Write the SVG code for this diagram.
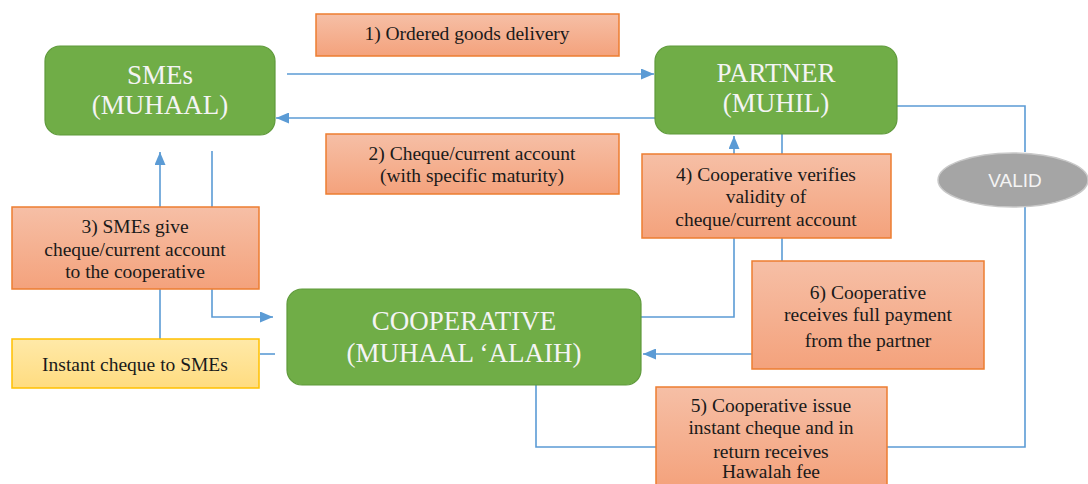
<svg xmlns="http://www.w3.org/2000/svg" width="1088" height="484" viewBox="0 0 1088 484">
<style>
.node{fill:#70ad47;stroke:#5f9a3b;stroke-width:1.2}
.lab{fill:url(#og);stroke:#ed7d31;stroke-width:1.5}
.ylab{fill:url(#yg);stroke:#ffc000;stroke-width:1.5}
.t{font-size:27px;fill:#f4f4f4;text-anchor:middle}
.l{font-size:19.5px;fill:#1a1a1a;text-anchor:middle}
.c{fill:none;stroke:#5b9bd5;stroke-width:1.6}
</style>
<defs>
<linearGradient id="og" x1="0" y1="0" x2="0" y2="1"><stop offset="0" stop-color="#f6bfa6"/><stop offset="1" stop-color="#f4a27c"/></linearGradient>
<linearGradient id="yg" x1="0" y1="0" x2="0" y2="1"><stop offset="0" stop-color="#ffe9a8"/><stop offset="1" stop-color="#ffdc80"/></linearGradient>
<marker id="ah" markerUnits="userSpaceOnUse" markerWidth="13" markerHeight="11" refX="13" refY="5.5" orient="auto"><path d="M0,0 L13,5.5 L0,11 z" fill="#5b9bd5"/></marker>
</defs>
<g id="connectors">
<path class="c" d="M287,74 H654" marker-end="url(#ah)"/>
<path class="c" d="M655,118 H276" marker-end="url(#ah)"/>
<path class="c" d="M160,339 V152" marker-end="url(#ah)"/>
<path class="c" d="M212,151 V317 H273" marker-end="url(#ah)"/>
<path class="c" d="M260,354 H275"/>
<path class="c" d="M641,317 H734 V136" marker-end="url(#ah)"/>
<path class="c" d="M782,134 V261"/>
<path class="c" d="M752,354 H643" marker-end="url(#ah)"/>
<path class="c" d="M897,106 H1025 V152"/>
<path class="c" d="M1025,207 V447 H887"/>
<path class="c" d="M536,385 V447 H656"/>
</g>
<g font-family="Liberation Serif, Times New Roman, Times, serif">
<g id="smes"><rect class="node" x="45" y="46" width="230" height="89" rx="15"/><text class="t" x="160" y="84">SMEs</text><text class="t" x="160" y="114">(MUHAAL)</text></g>
<g id="partner"><rect class="node" x="655" y="46" width="242" height="88" rx="15"/><text class="t" x="776" y="82">PARTNER</text><text class="t" x="776" y="112">(MUHIL)</text></g>
<g id="cooperative"><rect class="node" x="287" y="289" width="354" height="96" rx="15"/><text class="t" x="464" y="330">COOPERATIVE</text><text class="t" x="464" y="362">(MUHAAL ‘ALAIH)</text></g>
<g id="label1"><rect class="lab" x="316" y="14" width="303" height="42"/><text class="l" x="467" y="40">1) Ordered goods delivery</text></g>
<g id="label2"><rect class="lab" x="326" y="134" width="293" height="60"/><text class="l" x="472" y="160">2) Cheque/current account</text><text class="l" x="472" y="182">(with specific maturity)</text></g>
<g id="label3"><rect class="lab" x="12" y="207" width="247" height="82"/><text class="l" x="135" y="233">3) SMEs give</text><text class="l" x="135" y="256">cheque/current account</text><text class="l" x="135" y="278">to the cooperative</text></g>
<g id="label4"><rect class="lab" x="642" y="154" width="249" height="84"/><text class="l" x="766" y="181">4) Cooperative verifies</text><text class="l" x="766" y="203">validity of</text><text class="l" x="766" y="226">cheque/current account</text></g>
<g id="label6"><rect class="lab" x="752" y="261" width="232" height="108"/><text class="l" x="868" y="299">6) Cooperative</text><text class="l" x="868" y="321">receives full payment</text><text class="l" x="868" y="347">from the partner</text></g>
<g id="label5"><rect class="lab" x="656" y="387" width="231" height="100"/><text class="l" x="771" y="412">5) Cooperative issue</text><text class="l" x="771" y="434">instant cheque and in</text><text class="l" x="771" y="458">return receives</text><text class="l" x="771" y="478">Hawalah fee</text></g>
<g id="instant"><rect class="ylab" x="12" y="339" width="247" height="49"/><text class="l" x="135" y="371">Instant cheque to SMEs</text></g>
</g>
<g id="valid"><ellipse cx="1013" cy="180" rx="75" ry="27" fill="#a5a5a5" stroke="#c8c8c8" stroke-width="1.5"/><text x="1015" y="187" text-anchor="middle" font-family="Liberation Sans, Arial, sans-serif" font-size="19" fill="#f4f4f4">VALID</text></g>
</svg>
